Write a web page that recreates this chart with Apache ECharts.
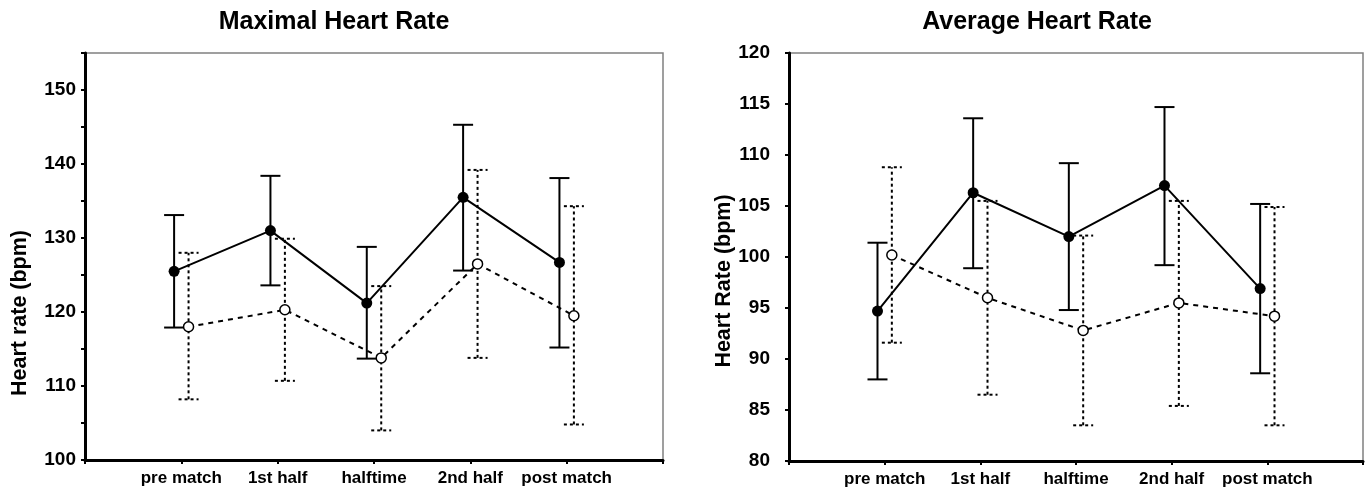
<!DOCTYPE html>
<html>
<head>
<meta charset="utf-8">
<script src="https://cdn.jsdelivr.net/npm/echarts@6/dist/echarts.min.js"></script>
<style>
html,body{margin:0;padding:0;background:#fff;}
#c{width:1366px;height:491px;}
</style>
</head>
<body>
<div id="c"></div>
<script>
// ---- data ----
const categories = ['pre match', '1st half', 'halftime', '2nd half', 'post match'];

// Maximal heart rate
const maxSolidMean = [125.5, 131.0, 121.2, 135.5, 126.7];
const maxSolidHigh = [133.1, 138.4, 128.8, 145.3, 138.1];
const maxSolidLow  = [117.9, 123.6, 113.7, 125.6, 115.2];
const maxDashMean  = [118.0, 120.3, 113.8, 126.5, 119.5];
const maxDashHigh  = [128.0, 129.9, 123.5, 139.2, 134.3];
const maxDashLow   = [108.2, 110.7, 104.0, 113.8, 104.8];

// Average heart rate
const avgSolidMean = [94.7, 106.3, 102.0, 107.0, 96.9];
const avgSolidHigh = [101.4, 113.6, 109.2, 114.7, 105.2];
const avgSolidLow  = [88.0, 98.9, 94.8, 99.2, 88.6];
const avgDashMean  = [100.2, 96.0, 92.8, 95.5, 94.2];
const avgDashHigh  = [108.8, 105.5, 102.1, 105.5, 104.9];
const avgDashLow   = [91.6, 86.5, 83.5, 85.4, 83.5];

const maxTicks = [100, 110, 120, 130, 140, 150];
const avgTicks = [80, 85, 90, 95, 100, 105, 110, 115, 120];

// ---- layout / style ----
const OFF = 0.075;
const FONT = '"Liberation Sans", Arial, sans-serif';

function pts(arr, off) { return arr.map((v, i) => [i + 1 + off, v]); }
function bars(lo, hi, off) { return lo.map((v, i) => [i + 1 + off, v, hi[i]]); }

function errRender(dashed) {
  return function (params, api) {
    const x = api.value(0);
    const pLo = api.coord([x, api.value(1)]);
    const pHi = api.coord([x, api.value(2)]);
    const hw = 10;
    const style = { stroke: '#000', lineWidth: 2, lineDash: dashed ? [3, 3] : null };
    return {
      type: 'group',
      children: [
        { type: 'line', shape: { x1: pLo[0], y1: pLo[1], x2: pHi[0], y2: pHi[1] }, style: style },
        { type: 'line', shape: { x1: pHi[0] - hw, y1: pHi[1], x2: pHi[0] + hw, y2: pHi[1] }, style: style },
        { type: 'line', shape: { x1: pLo[0] - hw, y1: pLo[1], x2: pLo[0] + hw, y2: pLo[1] }, style: style }
      ]
    };
  };
}

function xAxisDef(gi) {
  return {
    type: 'value', gridIndex: gi, min: 0, max: 6, interval: 1,
    axisLine: { show: true, onZero: false, lineStyle: { color: '#000', width: 3 } },
    axisTick: { show: true, length: 4, lineStyle: { color: '#000', width: 2 } },
    splitLine: { show: false },
    axisLabel: {
      margin: 10, color: '#000', fontFamily: FONT, fontWeight: 'bold', fontSize: 17,
      formatter: v => (v >= 1 && v <= categories.length) ? categories[v - 1] : ''
    }
  };
}

function yAxisDef(gi, min, max, ticks, margin) {
  return {
    type: 'value', gridIndex: gi, min: min, max: max, interval: 5,
    axisLine: { show: true, onZero: false, lineStyle: { color: '#000', width: 3 } },
    axisTick: { show: true, length: 4, lineStyle: { color: '#000', width: 2 } },
    splitLine: { show: false },
    axisLabel: {
      margin: margin, color: '#000', fontFamily: FONT, fontWeight: 'bold', fontSize: 19,
      formatter: v => ticks.indexOf(v) >= 0 ? String(v) : ''
    }
  };
}

function groupSeries(gi, sMean, sHi, sLo, dMean, dHi, dLo) {
  return [
    { type: 'custom', xAxisIndex: gi, yAxisIndex: gi, renderItem: errRender(false),
      data: bars(sLo, sHi, -OFF), z: 2, silent: true },
    { type: 'custom', xAxisIndex: gi, yAxisIndex: gi, renderItem: errRender(true),
      data: bars(dLo, dHi, OFF), z: 2, silent: true },
    { type: 'line', xAxisIndex: gi, yAxisIndex: gi, data: pts(dMean, OFF), z: 3,
      symbol: 'circle', symbolSize: 10,
      itemStyle: { color: '#fff', borderColor: '#000', borderWidth: 1.5 },
      lineStyle: { color: '#000', width: 2, type: [5, 5] } },
    { type: 'line', xAxisIndex: gi, yAxisIndex: gi, data: pts(sMean, -OFF), z: 4,
      symbol: 'circle', symbolSize: 11,
      itemStyle: { color: '#000', borderColor: '#000', borderWidth: 0 },
      lineStyle: { color: '#000', width: 2 } }
  ];
}

const chart = echarts.init(document.getElementById('c'), null, { renderer: 'canvas' });
const titleFont = 'bold 25px "Liberation Sans", Arial, sans-serif';
const nameFont = 'bold 21.5px "Liberation Sans", Arial, sans-serif';
chart.setOption({
  animation: false,
  backgroundColor: '#fff',
  grid: [
    { left: 85, top: 53, width: 578, height: 407, show: true, borderColor: '#808080', borderWidth: 1.5, backgroundColor: 'transparent' },
    { left: 789, top: 53, width: 574, height: 408, show: true, borderColor: '#808080', borderWidth: 1.5, backgroundColor: 'transparent' }
  ],
  xAxis: [xAxisDef(0), xAxisDef(1)],
  yAxis: [yAxisDef(0, 100, 155, maxTicks, 9), yAxisDef(1, 80, 120, avgTicks, 19)],
  graphic: [
    { type: 'text', x: 334, y: 22, style: { text: 'Maximal Heart Rate', font: titleFont, fill: '#000', textAlign: 'center', textVerticalAlign: 'middle' } },
    { type: 'text', x: 1037, y: 22, style: { text: 'Average Heart Rate', font: titleFont, fill: '#000', textAlign: 'center', textVerticalAlign: 'middle' } },
    { type: 'text', x: 20, y: 313, rotation: Math.PI / 2, style: { text: 'Heart rate (bpm)', font: nameFont, fill: '#000', textAlign: 'center', textVerticalAlign: 'middle' } },
    { type: 'text', x: 724, y: 281, rotation: Math.PI / 2, style: { text: 'Heart Rate (bpm)', font: nameFont, fill: '#000', textAlign: 'center', textVerticalAlign: 'middle' } }
  ],
  series: [].concat(
    groupSeries(0, maxSolidMean, maxSolidHigh, maxSolidLow, maxDashMean, maxDashHigh, maxDashLow),
    groupSeries(1, avgSolidMean, avgSolidHigh, avgSolidLow, avgDashMean, avgDashHigh, avgDashLow)
  )
});
</script>
</body>
</html>
